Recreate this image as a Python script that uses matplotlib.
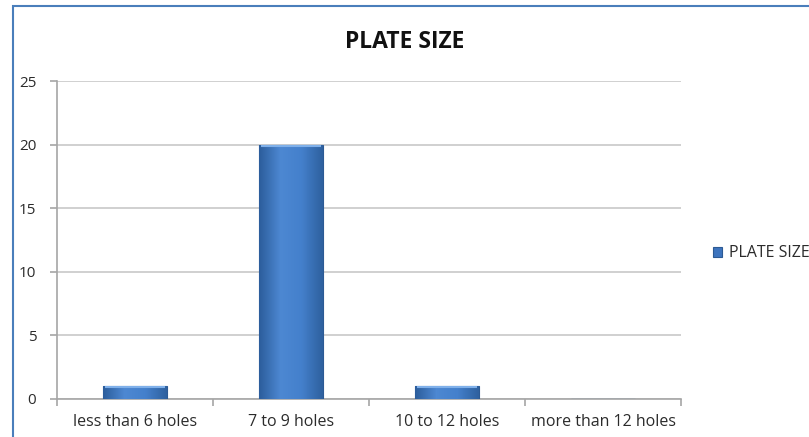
import matplotlib
matplotlib.use("Agg")
import matplotlib.pyplot as plt
import numpy as np
from matplotlib.colors import LinearSegmentedColormap
from matplotlib.patches import Rectangle

categories = ["less than 6 holes", "7 to 9 holes", "10 to 12 holes", "more than 12 holes"]
values = [1, 20, 1, 0]
series_name = "PLATE SIZE"
y_ticks = [0, 5, 10, 15, 20, 25]

plt.rcParams["font.family"] = ["Open Sans", "DejaVu Sans"]

fig = plt.figure(figsize=(8.09, 4.37), dpi=100)
ax = fig.add_axes([0.0705, 0.087, 0.7713, 0.7276])

x = np.arange(len(categories))
bars = ax.bar(x, values, width=0.41, color="#3d74be", edgecolor="#2c5a94",
              linewidth=0.8, label=series_name, zorder=3)

# shaded fill inside each bar, a bit like the office 3d look
shade = LinearSegmentedColormap.from_list(
    "shade", ["#2c5d9c", "#4d88d2", "#4480cc", "#2f619f"])
grad = np.linspace(0, 1, 64).reshape(1, -1)
for b in bars:
    if b.get_height() <= 0:
        continue
    x0, w, h = b.get_x(), b.get_width(), b.get_height()
    im = ax.imshow(grad, cmap=shade, aspect="auto",
                   extent=[x0, x0 + w, 0, h], zorder=3.5)
    im.set_clip_path(b)
    ax.plot([x0 + 0.01, x0 + w - 0.01], [h - 0.08, h - 0.08],
            color="#7fb0ea", lw=1.5, zorder=4, solid_capstyle="butt")

ax.set_xlim(-0.5, len(categories) - 0.5)
ax.set_ylim(0, 25)
ax.set_yticks(y_ticks)
ax.yaxis.grid(True, color="#c8c8c8", linewidth=1.2, zorder=0)
ax.set_axisbelow(True)

for side in ["top", "right"]:
    ax.spines[side].set_visible(False)
ax.spines["left"].set_color("#a6a6a6")
ax.spines["bottom"].set_color("#a6a6a6")
ax.spines["left"].set_linewidth(1.2)
ax.spines["bottom"].set_linewidth(1.2)

ax.set_xticks(x)
ax.set_xticklabels(categories)
ax.set_xticks(np.arange(-0.5, len(categories)), minor=True)
ax.tick_params(axis="x", which="major", length=0, pad=11, labelsize=11.5, colors="#2b2b2b")
ax.tick_params(axis="x", which="minor", length=5, color="#a6a6a6", width=1.2)
ax.tick_params(axis="y", length=5, color="#a6a6a6", width=1.2, pad=10,
               labelsize=11, labelcolor="#2b2b2b")

fig.text(0.5, 0.905, "PLATE SIZE", ha="center", va="center",
         fontsize=16.5, fontweight="bold", color="#111111")

ax.legend(loc="center left", bbox_to_anchor=(0.863, 0.42),
          bbox_transform=fig.transFigure, frameon=False,
          handlelength=0.6, handleheight=0.6, handletextpad=0.4,
          fontsize=11.5, labelcolor="#2b2b2b")

# chart border, runs off the right and bottom like the cropped original
fig.patches.append(Rectangle((13 / 809, -0.05), 1.2, 1 - 6 / 437 + 0.05,
                             transform=fig.transFigure, fill=False,
                             edgecolor="#4a7ebb", linewidth=1.5))

fig.savefig("out.png", dpi=100)
